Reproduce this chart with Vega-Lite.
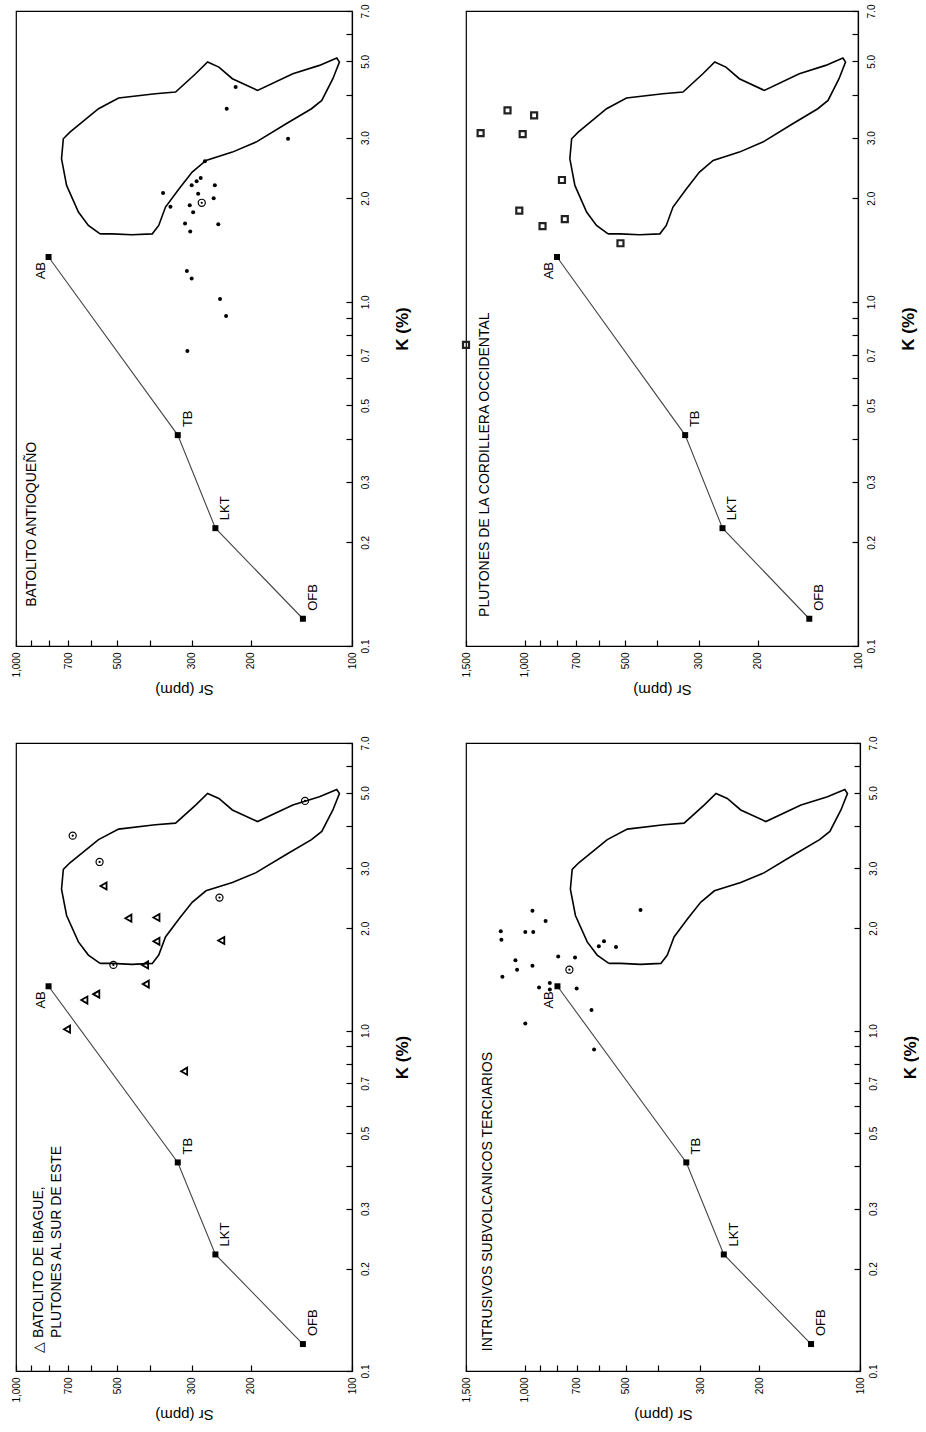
{
  "$schema": "https://vega.github.io/schema/vega-lite/v6.json",
  "background": "white",
  "padding": {"left": 10, "top": 3, "right": 0, "bottom": 6},
  "datasets": {
    "field": [
      {"i":1,"K":1.576,"Sr":562},{"i":2,"K":1.667,"Sr":609},{"i":3,"K":1.823,"Sr":652},{"i":4,"K":2.179,"Sr":707},
      {"i":5,"K":2.604,"Sr":732},{"i":6,"K":2.977,"Sr":723},{"i":7,"K":3.113,"Sr":691},{"i":8,"K":3.64,"Sr":568},
      {"i":9,"K":3.91,"Sr":495},{"i":10,"K":4.025,"Sr":385},{"i":11,"K":4.07,"Sr":335},{"i":12,"K":4.6,"Sr":292},
      {"i":13,"K":4.975,"Sr":269},{"i":14,"K":4.81,"Sr":249},{"i":15,"K":4.45,"Sr":227},{"i":16,"K":4.115,"Sr":191},
      {"i":17,"K":4.6,"Sr":150},{"i":18,"K":4.865,"Sr":125},{"i":19,"K":5.11,"Sr":111},{"i":20,"K":4.975,"Sr":109},
      {"i":21,"K":4.45,"Sr":114},{"i":22,"K":3.847,"Sr":123},{"i":23,"K":3.64,"Sr":132},{"i":24,"K":3.291,"Sr":157},
      {"i":25,"K":2.912,"Sr":193},{"i":26,"K":2.723,"Sr":227},{"i":27,"K":2.575,"Sr":272},{"i":28,"K":2.382,"Sr":299},
      {"i":29,"K":2.131,"Sr":327},{"i":30,"K":1.885,"Sr":359},{"i":31,"K":1.667,"Sr":376},{"i":32,"K":1.576,"Sr":393},
      {"i":33,"K":1.566,"Sr":452},{"i":34,"K":1.576,"Sr":518},{"i":35,"K":1.576,"Sr":562}
    ],
    "ref": [
      {"i":1,"lab":"OFB","K":0.12,"Sr":140},
      {"i":2,"lab":"LKT","K":0.22,"Sr":255},
      {"i":3,"lab":"TB","K":0.41,"Sr":330},
      {"i":4,"lab":"AB","K":1.35,"Sr":800}
    ],
    "notes": [
      {"panel":"ANT","txt":"BATOLITO ANTIOQUEÑO","K":0.13,"Sr":896},
      {"panel":"PLU","txt":"PLUTONES DE LA CORDILLERA OCCIDENTAL","K":0.1215,"Sr":1313},
      {"panel":"IBA","txt":"△ BATOLITO DE IBAGUE,","K":0.113,"Sr":855},
      {"panel":"IBA","txt":"PLUTONES AL SUR DE ESTE","K":0.125,"Sr":757},
      {"panel":"INT","txt":"INTRUSIVOS SUBVOLCANICOS TERCIARIOS","K":0.1143,"Sr":1291}
    ],
    "samples": [
      {"panel":"ANT","sym":"dot","K":4.21,"Sr":222},{"panel":"ANT","sym":"dot","K":3.64,"Sr":236},
      {"panel":"ANT","sym":"dot","K":2.98,"Sr":155},{"panel":"ANT","sym":"dot","K":2.56,"Sr":274},
      {"panel":"ANT","sym":"dot","K":2.29,"Sr":282},{"panel":"ANT","sym":"dot","K":2.24,"Sr":290},
      {"panel":"ANT","sym":"dot","K":2.18,"Sr":300},{"panel":"ANT","sym":"dot","K":2.18,"Sr":256},
      {"panel":"ANT","sym":"dot","K":2.07,"Sr":365},{"panel":"ANT","sym":"dot","K":2.06,"Sr":287},
      {"panel":"ANT","sym":"dot","K":2.0,"Sr":258},{"panel":"ANT","sym":"dot","K":1.89,"Sr":347},
      {"panel":"ANT","sym":"dot","K":1.91,"Sr":304},{"panel":"ANT","sym":"dot","K":1.82,"Sr":297},
      {"panel":"ANT","sym":"dot","K":1.69,"Sr":314},{"panel":"ANT","sym":"dot","K":1.6,"Sr":303},
      {"panel":"ANT","sym":"dot","K":1.68,"Sr":250},{"panel":"ANT","sym":"dot","K":1.23,"Sr":310},
      {"panel":"ANT","sym":"dot","K":1.17,"Sr":300},{"panel":"ANT","sym":"dot","K":1.02,"Sr":247},
      {"panel":"ANT","sym":"dot","K":0.91,"Sr":237},{"panel":"ANT","sym":"dot","K":0.72,"Sr":309},
      {"panel":"ANT","sym":"bull","K":1.94,"Sr":280},
      {"panel":"PLU","sym":"sq","K":3.6,"Sr":1126},{"panel":"PLU","sym":"sq","K":3.48,"Sr":937},
      {"panel":"PLU","sym":"sq","K":3.09,"Sr":1356},{"panel":"PLU","sym":"sq","K":3.07,"Sr":1014},
      {"panel":"PLU","sym":"sq","K":2.26,"Sr":773},{"panel":"PLU","sym":"sq","K":1.84,"Sr":1038},
      {"panel":"PLU","sym":"sq","K":1.74,"Sr":758},{"panel":"PLU","sym":"sq","K":1.66,"Sr":884},
      {"panel":"PLU","sym":"sq","K":1.48,"Sr":516},{"panel":"PLU","sym":"sq","K":0.75,"Sr":1500},
      {"panel":"IBA","sym":"tri","K":2.66,"Sr":549},{"panel":"IBA","sym":"tri","K":2.14,"Sr":463},
      {"panel":"IBA","sym":"tri","K":2.15,"Sr":382},{"panel":"IBA","sym":"tri","K":1.83,"Sr":382},
      {"panel":"IBA","sym":"tri","K":1.84,"Sr":245},{"panel":"IBA","sym":"tri","K":1.56,"Sr":413},
      {"panel":"IBA","sym":"tri","K":1.37,"Sr":411},{"panel":"IBA","sym":"tri","K":1.28,"Sr":577},
      {"panel":"IBA","sym":"tri","K":1.23,"Sr":626},{"panel":"IBA","sym":"tri","K":1.01,"Sr":705},
      {"panel":"IBA","sym":"tri","K":0.76,"Sr":316},
      {"panel":"IBA","sym":"bull","K":3.74,"Sr":678},{"panel":"IBA","sym":"bull","K":3.13,"Sr":564},
      {"panel":"IBA","sym":"bull","K":2.46,"Sr":248},{"panel":"IBA","sym":"bull","K":4.73,"Sr":138},
      {"panel":"IBA","sym":"bull","K":1.56,"Sr":513},
      {"panel":"INT","sym":"dot","K":2.25,"Sr":950},{"panel":"INT","sym":"dot","K":2.1,"Sr":868},
      {"panel":"INT","sym":"dot","K":1.96,"Sr":1181},{"panel":"INT","sym":"dot","K":1.95,"Sr":998},
      {"panel":"INT","sym":"dot","K":1.95,"Sr":945},{"panel":"INT","sym":"dot","K":1.85,"Sr":1176},
      {"panel":"INT","sym":"dot","K":2.26,"Sr":452},{"panel":"INT","sym":"dot","K":1.83,"Sr":581},
      {"panel":"INT","sym":"dot","K":1.77,"Sr":602},{"panel":"INT","sym":"dot","K":1.76,"Sr":535},
      {"panel":"INT","sym":"dot","K":1.65,"Sr":796},{"panel":"INT","sym":"dot","K":1.64,"Sr":709},
      {"panel":"INT","sym":"dot","K":1.61,"Sr":1068},{"panel":"INT","sym":"dot","K":1.51,"Sr":1056},
      {"panel":"INT","sym":"dot","K":1.55,"Sr":950},{"panel":"INT","sym":"dot","K":1.44,"Sr":1168},
      {"panel":"INT","sym":"dot","K":1.38,"Sr":843},{"panel":"INT","sym":"dot","K":1.34,"Sr":908},
      {"panel":"INT","sym":"dot","K":1.32,"Sr":843},{"panel":"INT","sym":"dot","K":1.33,"Sr":701},
      {"panel":"INT","sym":"dot","K":1.15,"Sr":633},{"panel":"INT","sym":"dot","K":1.05,"Sr":998},
      {"panel":"INT","sym":"dot","K":0.88,"Sr":622},
      {"panel":"INT","sym":"bull","K":1.51,"Sr":737}
    ]
  },
  "bounds": "flush",
  "columns": 2,
  "spacing": {"row": 97, "column": 114},
  "concat": [
    {
      "width": 336, "height": 635,
      "encoding": {
        "x": {"field":"Sr","type":"quantitative","scale":{"type":"log","domain":[100,1000],"reverse":true,"nice":false,"zero":false},
              "axis":{"orient":"bottom","title":"Sr (ppm)","values":[100,200,300,400,500,600,700,800,900,1000],
                      "labelExpr":"indexof([400,600,800,900], datum.value) >= 0 ? '' : format(datum.value, ',')"}},
        "y": {"field":"K","type":"quantitative","scale":{"type":"log","domain":[0.1,7],"nice":false,"zero":false},
              "axis":{"orient":"right","title":"K (%)","values":[0.1,0.2,0.3,0.4,0.5,0.6,0.7,0.8,0.9,1,2,3,4,5,6,7],
                      "labelExpr":"indexof([0.4,0.6,0.8,0.9,4,6], datum.value) >= 0 ? '' : format(datum.value, '.1f')"}}
      },
      "layer": [
        {"data":{"name":"field"},"mark":{"type":"line","color":"black","strokeWidth":1.6},"encoding":{"order":{"field":"i","type":"quantitative"}}},
        {"data":{"name":"ref"},"mark":{"type":"line","color":"#444","strokeWidth":1.1},"encoding":{"order":{"field":"i","type":"quantitative"}}},
        {"data":{"name":"ref"},"mark":{"type":"point","shape":"square","filled":true,"color":"black","size":36,"opacity":1}},
        {"data":{"name":"ref"},"transform":[{"filter":"datum.lab != 'AB'"}],"mark":{"type":"text","angle":270,"align":"left","baseline":"middle","dx":8,"dy":10,"fontSize":13},"encoding":{"text":{"field":"lab"}}},
        {"data":{"name":"ref"},"transform":[{"filter":"datum.lab == 'AB'"}],"mark":{"type":"text","angle":270,"align":"right","baseline":"middle","dx":-5,"dy":-8,"fontSize":13},"encoding":{"text":{"field":"lab"}}},
        {"data":{"name":"notes"},"transform":[{"filter":"datum.panel == 'ANT'"}],"mark":{"type":"text","angle":270,"align":"left","baseline":"middle","fontSize":14},"encoding":{"text":{"field":"txt"}}},
        {"data":{"name":"samples"},"transform":[{"filter":"datum.panel == 'ANT' && datum.sym == 'dot'"}],"mark":{"type":"point","shape":"circle","filled":true,"color":"black","size":16,"opacity":1}},
        {"data":{"name":"samples"},"transform":[{"filter":"datum.panel == 'ANT' && datum.sym == 'bull'"}],"mark":{"type":"point","shape":"circle","filled":false,"color":"black","size":50,"strokeWidth":1.2,"opacity":1}},
        {"data":{"name":"samples"},"transform":[{"filter":"datum.panel == 'ANT' && datum.sym == 'bull'"}],"mark":{"type":"point","shape":"circle","filled":true,"color":"black","size":5,"opacity":1}}
      ]
    },
    {
      "width": 392, "height": 635,
      "encoding": {
        "x": {"field":"Sr","type":"quantitative","scale":{"type":"log","domain":[100,1500],"reverse":true,"nice":false,"zero":false},
              "axis":{"orient":"bottom","title":"Sr (ppm)","values":[100,200,300,400,500,600,700,800,900,1000,1500],
                      "labelExpr":"indexof([400,600,800,900], datum.value) >= 0 ? '' : format(datum.value, ',')"}},
        "y": {"field":"K","type":"quantitative","scale":{"type":"log","domain":[0.1,7],"nice":false,"zero":false},
              "axis":{"orient":"right","title":"K (%)","values":[0.1,0.2,0.3,0.4,0.5,0.6,0.7,0.8,0.9,1,2,3,4,5,6,7],
                      "labelExpr":"indexof([0.4,0.6,0.8,0.9,4,6], datum.value) >= 0 ? '' : format(datum.value, '.1f')"}}
      },
      "layer": [
        {"data":{"name":"field"},"mark":{"type":"line","color":"black","strokeWidth":1.6},"encoding":{"order":{"field":"i","type":"quantitative"}}},
        {"data":{"name":"ref"},"mark":{"type":"line","color":"#444","strokeWidth":1.1},"encoding":{"order":{"field":"i","type":"quantitative"}}},
        {"data":{"name":"ref"},"mark":{"type":"point","shape":"square","filled":true,"color":"black","size":36,"opacity":1}},
        {"data":{"name":"ref"},"transform":[{"filter":"datum.lab != 'AB'"}],"mark":{"type":"text","angle":270,"align":"left","baseline":"middle","dx":8,"dy":10,"fontSize":13},"encoding":{"text":{"field":"lab"}}},
        {"data":{"name":"ref"},"transform":[{"filter":"datum.lab == 'AB'"}],"mark":{"type":"text","angle":270,"align":"right","baseline":"middle","dx":-5,"dy":-8,"fontSize":13},"encoding":{"text":{"field":"lab"}}},
        {"data":{"name":"notes"},"transform":[{"filter":"datum.panel == 'PLU'"}],"mark":{"type":"text","angle":270,"align":"left","baseline":"middle","fontSize":14},"encoding":{"text":{"field":"txt"}}},
        {"data":{"name":"samples"},"transform":[{"filter":"datum.panel == 'PLU' && datum.sym == 'sq'"}],"mark":{"type":"point","shape":"square","filled":false,"color":"#222","size":36,"strokeWidth":2.2,"opacity":1}}
      ]
    },
    {
      "width": 336, "height": 628,
      "encoding": {
        "x": {"field":"Sr","type":"quantitative","scale":{"type":"log","domain":[100,1000],"reverse":true,"nice":false,"zero":false},
              "axis":{"orient":"bottom","title":"Sr (ppm)","values":[100,200,300,400,500,600,700,800,900,1000],
                      "labelExpr":"indexof([400,600,800,900], datum.value) >= 0 ? '' : format(datum.value, ',')"}},
        "y": {"field":"K","type":"quantitative","scale":{"type":"log","domain":[0.1,7],"nice":false,"zero":false},
              "axis":{"orient":"right","title":"K (%)","values":[0.1,0.2,0.3,0.4,0.5,0.6,0.7,0.8,0.9,1,2,3,4,5,6,7],
                      "labelExpr":"indexof([0.4,0.6,0.8,0.9,4,6], datum.value) >= 0 ? '' : format(datum.value, '.1f')"}}
      },
      "layer": [
        {"data":{"name":"field"},"mark":{"type":"line","color":"black","strokeWidth":1.6},"encoding":{"order":{"field":"i","type":"quantitative"}}},
        {"data":{"name":"ref"},"mark":{"type":"line","color":"#444","strokeWidth":1.1},"encoding":{"order":{"field":"i","type":"quantitative"}}},
        {"data":{"name":"ref"},"mark":{"type":"point","shape":"square","filled":true,"color":"black","size":36,"opacity":1}},
        {"data":{"name":"ref"},"transform":[{"filter":"datum.lab != 'AB'"}],"mark":{"type":"text","angle":270,"align":"left","baseline":"middle","dx":8,"dy":10,"fontSize":13},"encoding":{"text":{"field":"lab"}}},
        {"data":{"name":"ref"},"transform":[{"filter":"datum.lab == 'AB'"}],"mark":{"type":"text","angle":270,"align":"right","baseline":"middle","dx":-5,"dy":-8,"fontSize":13},"encoding":{"text":{"field":"lab"}}},
        {"data":{"name":"notes"},"transform":[{"filter":"datum.panel == 'IBA'"}],"mark":{"type":"text","angle":270,"align":"left","baseline":"middle","fontSize":14},"encoding":{"text":{"field":"txt"}}},
        {"data":{"name":"samples"},"transform":[{"filter":"datum.panel == 'IBA' && datum.sym == 'tri'"}],"mark":{"type":"point","shape":"triangle-left","filled":false,"color":"black","size":50,"strokeWidth":1.8,"opacity":1}},
        {"data":{"name":"samples"},"transform":[{"filter":"datum.panel == 'IBA' && datum.sym == 'bull'"}],"mark":{"type":"point","shape":"circle","filled":false,"color":"black","size":50,"strokeWidth":1.2,"opacity":1}},
        {"data":{"name":"samples"},"transform":[{"filter":"datum.panel == 'IBA' && datum.sym == 'bull'"}],"mark":{"type":"point","shape":"circle","filled":true,"color":"black","size":5,"opacity":1}}
      ]
    },
    {
      "width": 394, "height": 628,
      "encoding": {
        "x": {"field":"Sr","type":"quantitative","scale":{"type":"log","domain":[100,1500],"reverse":true,"nice":false,"zero":false},
              "axis":{"orient":"bottom","title":"Sr (ppm)","values":[100,200,300,400,500,600,700,800,900,1000,1500],
                      "labelExpr":"indexof([400,600,800,900], datum.value) >= 0 ? '' : format(datum.value, ',')"}},
        "y": {"field":"K","type":"quantitative","scale":{"type":"log","domain":[0.1,7],"nice":false,"zero":false},
              "axis":{"orient":"right","title":"K (%)","values":[0.1,0.2,0.3,0.4,0.5,0.6,0.7,0.8,0.9,1,2,3,4,5,6,7],
                      "labelExpr":"indexof([0.4,0.6,0.8,0.9,4,6], datum.value) >= 0 ? '' : format(datum.value, '.1f')"}}
      },
      "layer": [
        {"data":{"name":"field"},"mark":{"type":"line","color":"black","strokeWidth":1.6},"encoding":{"order":{"field":"i","type":"quantitative"}}},
        {"data":{"name":"ref"},"mark":{"type":"line","color":"#444","strokeWidth":1.1},"encoding":{"order":{"field":"i","type":"quantitative"}}},
        {"data":{"name":"ref"},"mark":{"type":"point","shape":"square","filled":true,"color":"black","size":36,"opacity":1}},
        {"data":{"name":"ref"},"transform":[{"filter":"datum.lab != 'AB'"}],"mark":{"type":"text","angle":270,"align":"left","baseline":"middle","dx":8,"dy":10,"fontSize":13},"encoding":{"text":{"field":"lab"}}},
        {"data":{"name":"ref"},"transform":[{"filter":"datum.lab == 'AB'"}],"mark":{"type":"text","angle":270,"align":"right","baseline":"middle","dx":-5,"dy":-8,"fontSize":13},"encoding":{"text":{"field":"lab"}}},
        {"data":{"name":"notes"},"transform":[{"filter":"datum.panel == 'INT'"}],"mark":{"type":"text","angle":270,"align":"left","baseline":"middle","fontSize":14},"encoding":{"text":{"field":"txt"}}},
        {"data":{"name":"samples"},"transform":[{"filter":"datum.panel == 'INT' && datum.sym == 'dot'"}],"mark":{"type":"point","shape":"circle","filled":true,"color":"black","size":16,"opacity":1}},
        {"data":{"name":"samples"},"transform":[{"filter":"datum.panel == 'INT' && datum.sym == 'bull'"}],"mark":{"type":"point","shape":"circle","filled":false,"color":"black","size":50,"strokeWidth":1.2,"opacity":1}},
        {"data":{"name":"samples"},"transform":[{"filter":"datum.panel == 'INT' && datum.sym == 'bull'"}],"mark":{"type":"point","shape":"circle","filled":true,"color":"black","size":5,"opacity":1}}
      ]
    }
  ],
  "config": {
    "view": {"stroke": "black", "strokeWidth": 1.2},
    "axis": {"domainColor":"black","tickColor":"black","labelColor":"black","titleColor":"black","grid":false,
             "labelFont":"Liberation Sans","titleFont":"Liberation Sans","labelFontSize":10,"tickSize":-6,
             "labelOverlap":false,"labelFlush":false,"domainWidth":1.2,"tickWidth":1.2},
    "axisX": {"labelAngle":270,"labelAlign":"right","labelBaseline":"middle","labelPadding":12,
              "titleAngle":180,"titleAlign":"center","titleBaseline":"bottom","titleFontSize":15,"titleFontWeight":"normal","titlePadding":4},
    "axisY": {"labelAngle":270,"labelAlign":"center","labelBaseline":"top","labelPadding":14,
              "titleAngle":270,"titleAlign":"center","titleBaseline":"top","titleFontSize":17,"titleFontWeight":"bold","titlePadding":24},
    "text": {"font":"Liberation Sans","color":"black"}
  }
}
